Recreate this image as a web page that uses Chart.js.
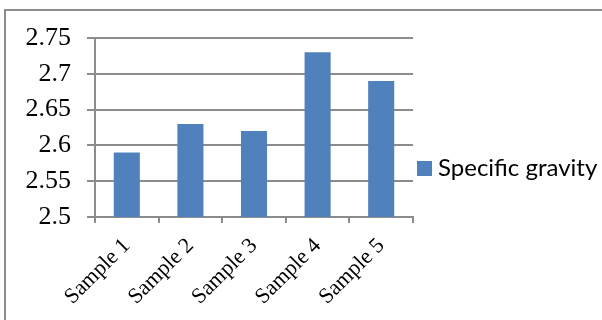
<!DOCTYPE html>
<html>
<head>
<meta charset="utf-8">
<script src="https://cdn.jsdelivr.net/npm/chart.js@4.4.1/dist/chart.umd.min.js"></script>
<style>
  html, body { margin: 0; padding: 0; background: #fff; }
  #wrap { position: relative; width: 602px; height: 320px; overflow: hidden; }
  #frame {
    position: absolute; left: 4px; top: 9px; width: 700px; height: 400px;
    border-top: 2px solid #8c8c8c; border-left: 2px solid #8c8c8c;
  }
  #chart { position: absolute; left: 0; top: 0; }
</style>
</head>
<body>
<div id="wrap">
  <div id="frame"></div>
  <canvas id="chart" width="602" height="320"></canvas>
</div>
<script>
const samples = ['Sample 1', 'Sample 2', 'Sample 3', 'Sample 4', 'Sample 5'];
const specificGravity = [2.59, 2.63, 2.62, 2.73, 2.69];
const yTicks = [2.5, 2.55, 2.6, 2.65, 2.7, 2.75];

const gridGrey = '#8c8c8c';
const serif = '"Liberation Serif", "Times New Roman", serif';

// Single-entry legend to the right of the plot, vertically centred on the frame
const sideLegend = {
    id: 'sideLegend',
    afterDraw(chart) {
        const ds = chart.data.datasets[0];
        const { ctx, chartArea } = chart;
        const x = chartArea.right + 4;
        const y = 168.5;
        ctx.save();
        ctx.fillStyle = ds.backgroundColor;
        ctx.fillRect(x, y - 7.5, 15, 15);
        ctx.fillStyle = '#000';
        ctx.font = '24px Lato, "Open Sans", sans-serif';
        ctx.textBaseline = 'middle';
        ctx.textAlign = 'left';
        ctx.fillText(ds.label, x + 21, y);
        ctx.restore();
    }
};

const ctx = document.getElementById('chart').getContext('2d');
new Chart(ctx, {
    type: 'bar',
    data: {
        labels: samples,
        datasets: [{
            label: 'Specific gravity',
            data: specificGravity,
            backgroundColor: '#4F81BD',
            borderWidth: 0,
            barPercentage: 0.41,
            categoryPercentage: 1
        }]
    },
    options: {
        responsive: false,
        animation: false,
        layout: { padding: { top: 38, left: 0, right: 189, bottom: 0 } },
        scales: {
            x: {
                offset: true,
                grid: { drawOnChartArea: false, drawTicks: true, tickLength: 6, color: gridGrey, lineWidth: 2, offset: true },
                border: { display: true, color: gridGrey, width: 2 },
                ticks: {
                    minRotation: 45, maxRotation: 45, padding: 10,
                    color: '#000',
                    font: { family: serif, size: 22 }
                },
                afterFit: (axis) => { axis.height = 103; }
            },
            y: {
                min: 2.5,
                max: 2.75,
                afterBuildTicks: (axis) => { axis.ticks = yTicks.map(v => ({ value: v })); },
                grid: { color: gridGrey, lineWidth: 2, tickLength: 8 },
                border: { display: true, color: gridGrey, width: 2 },
                ticks: {
                    padding: 16,
                    color: '#000',
                    font: { family: serif, size: 26 },
                    callback: (v) => String(Math.round(v * 100) / 100)
                },
                afterFit: (axis) => { axis.width = 95; }
            }
        },
        plugins: {
            legend: { display: false },
            tooltip: { enabled: false }
        }
    },
    plugins: [sideLegend]
});
</script>
</body>
</html>
